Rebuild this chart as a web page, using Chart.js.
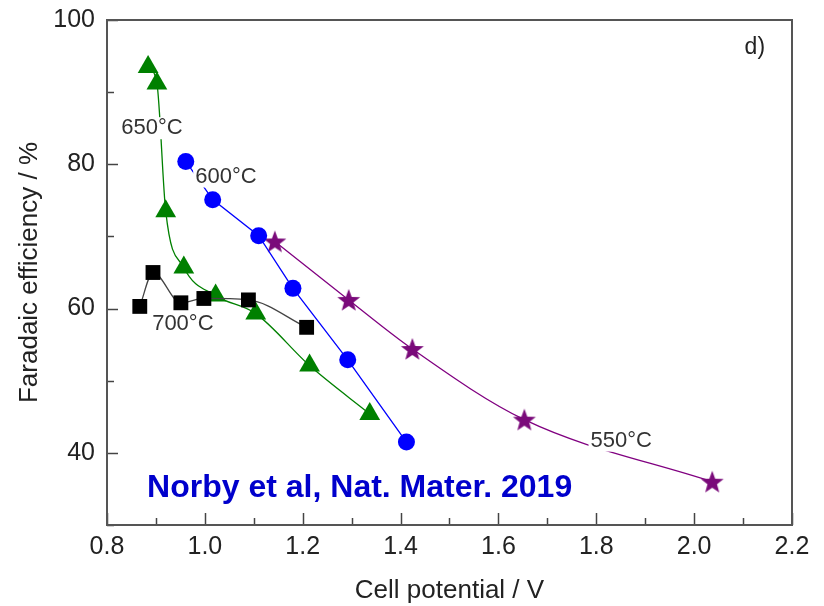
<!DOCTYPE html>
<html>
<head>
<meta charset="utf-8">
<script src="https://cdn.jsdelivr.net/npm/chart.js@4.4.0/dist/chart.umd.min.js"></script>
<style>
html, body { margin: 0; padding: 0; background: #fff; }
</style>
</head>
<body>
<canvas id="c" width="824" height="606"></canvas>
<script>
// values
const v700 = [0.867, 0.894, 0.951, 0.998, 1.089, 1.208];
const fe700 = [60.3, 65.0, 60.8, 61.4, 61.2, 57.4];

const v650 = [0.884, 0.902, 0.920, 0.957, 1.022, 1.104, 1.214, 1.337];
const fe650 = [93.5, 91.2, 73.5, 65.7, 61.8, 59.3, 52.1, 45.4];

const v600 = [0.961, 1.016, 1.110, 1.180, 1.292, 1.412];
const fe600 = [80.4, 75.1, 70.1, 62.8, 52.9, 41.5];

const v550 = [1.143, 1.294, 1.424, 1.653, 2.037];
const fe550 = [69.3, 61.2, 54.4, 44.6, 36.0];

const xTicks = [0.8, 1.0, 1.2, 1.4, 1.6, 1.8, 2.0, 2.2];
const yTicks = [40, 60, 80, 100];

// labels in data units
const labels = [
    { text: '650°C', x: 0.892, y: 85.0 },
    { text: '600°C', x: 1.043, y: 78.3 },
    { text: '700°C', x: 0.955, y: 57.9 },
    { text: '550°C', x: 1.851, y: 41.7 }
];

const pts = (xs, ys) => xs.map((x, i) => ({ x: x, y: ys[i] }));

// filled five point star
function makeStar(color) {
    const c = document.createElement('canvas');
    c.width = 26; c.height = 26;
    const g = c.getContext('2d');
    g.fillStyle = color;
    g.beginPath();
    for (let i = 0; i < 10; i++) {
        const r = i % 2 === 0 ? 12 : 5;
        const a = -Math.PI / 2 + i * Math.PI / 5;
        const px = 13 + r * Math.cos(a), py = 14 + r * Math.sin(a);
        if (i === 0) g.moveTo(px, py); else g.lineTo(px, py);
    }
    g.closePath();
    g.fill();
    return c;
}

const font = '"Liberation Sans", Arial, sans-serif';

const frameAndTicks = {
    id: 'frameAndTicks',
    beforeDatasetsDraw(chart) {
        const ctx = chart.ctx, a = chart.chartArea;
        const sx = chart.scales.x, sy = chart.scales.y;
        ctx.save();
        ctx.strokeStyle = '#444';
        ctx.lineWidth = 1.5;
        sx.ticks.forEach(t => {
            const px = Math.round(sx.getPixelForValue(t.value)) + 0.5;
            const major = Math.round(t.value * 10) % 2 === 0;
            ctx.beginPath();
            ctx.moveTo(px, a.bottom);
            ctx.lineTo(px, a.bottom - (major ? 12 : 7));
            ctx.stroke();
        });
        sy.ticks.forEach(t => {
            const py = Math.round(sy.getPixelForValue(t.value)) + 0.5;
            const major = Math.round(t.value) % 20 === 0;
            ctx.beginPath();
            ctx.moveTo(a.left, py);
            ctx.lineTo(a.left + (major ? 11 : 7), py);
            ctx.stroke();
        });
        ctx.strokeStyle = '#555';
        ctx.lineWidth = 2;
        ctx.strokeRect(a.left, a.top, a.right - a.left, a.bottom - a.top);
        ctx.restore();
    },
    afterDatasetsDraw(chart) {
        const ctx = chart.ctx;
        const sx = chart.scales.x, sy = chart.scales.y;
        ctx.save();
        ctx.font = '22px ' + font;
        ctx.textAlign = 'center';
        ctx.textBaseline = 'middle';
        labels.forEach(l => {
            const px = sx.getPixelForValue(l.x), py = sy.getPixelForValue(l.y);
            const w = ctx.measureText(l.text).width;
            ctx.fillStyle = '#fff';
            ctx.fillRect(px - w / 2 - 2, py - 11, w + 4, 22);
            ctx.fillStyle = '#333';
            ctx.fillText(l.text, px, py);
        });
        ctx.font = '23px ' + font;
        ctx.fillStyle = '#222';
        ctx.fillText('d)', sx.getPixelForValue(2.124), sy.getPixelForValue(96.1));

        ctx.font = 'bold 32px ' + font;
        ctx.fillStyle = '#0000cc';
        ctx.textAlign = 'left';
        ctx.fillText('Norby et al, Nat. Mater. 2019', sx.getPixelForValue(0.882), sy.getPixelForValue(35.1));
        ctx.restore();
    }
};

new Chart(document.getElementById('c'), {
    type: 'scatter',
    data: {
        datasets: [
            {
                label: '700°C',
                data: pts(v700, fe700),
                showLine: true,
                borderColor: '#444',
                borderWidth: 1.3,
                backgroundColor: '#000',
                pointStyle: 'rect',
                pointRadius: 10.5,
                pointBorderWidth: 0,
                cubicInterpolationMode: 'monotone'
            },
            {
                label: '650°C',
                data: pts(v650, fe650),
                showLine: true,
                borderColor: '#008000',
                borderWidth: 1.3,
                backgroundColor: '#008000',
                pointStyle: 'triangle',
                pointRadius: 12,
                pointBorderWidth: 0,
                cubicInterpolationMode: 'monotone'
            },
            {
                label: '600°C',
                data: pts(v600, fe600),
                showLine: true,
                borderColor: '#0000ff',
                borderWidth: 1.3,
                backgroundColor: '#0000ff',
                pointStyle: 'circle',
                pointRadius: 8.5,
                pointBorderWidth: 0,
                tension: 0
            },
            {
                label: '550°C',
                data: pts(v550, fe550),
                showLine: true,
                borderColor: '#800080',
                borderWidth: 1.3,
                backgroundColor: '#800080',
                pointStyle: makeStar('#7a0a7a'),
                pointRadius: 12,
                cubicInterpolationMode: 'monotone'
            }
        ]
    },
    options: {
        responsive: false,
        animation: false,
        layout: { padding: { top: 20, right: 32, left: 0, bottom: 0 } },
        plugins: {
            legend: { display: false },
            tooltip: { enabled: false }
        },
        scales: {
            x: {
                type: 'linear',
                min: 0.8,
                max: 2.2,
                grid: { display: false, drawTicks: false, tickLength: 0 },
                border: { display: false },
                ticks: {
                    stepSize: 0.1,
                    padding: 7,
                    color: '#222',
                    font: { family: font, size: 25 },
                    maxRotation: 0,
                    autoSkip: false,
                    callback: v => {
                        const t = xTicks.find(k => Math.abs(k - v) < 1e-6);
                        return t === undefined ? '' : t.toFixed(1);
                    }
                },
                title: {
                    display: true,
                    text: 'Cell potential / V',
                    color: '#222',
                    font: { family: font, size: 26 },
                    padding: { top: 0, bottom: 0 }
                },
                afterFit: s => { s.height = 606 - 525; s.paddingLeft = 0; s.paddingRight = 0; }
            },
            y: {
                type: 'linear',
                min: 30,
                max: 100,
                grid: { display: false, drawTicks: false, tickLength: 0 },
                border: { display: false },
                ticks: {
                    stepSize: 10,
                    padding: 12,
                    color: '#222',
                    font: { family: font, size: 25 },
                    autoSkip: false,
                    callback: v => yTicks.includes(Math.round(v)) ? String(Math.round(v)) : ''
                },
                title: {
                    display: true,
                    text: 'Faradaic efficiency / %',
                    color: '#222',
                    font: { family: font, size: 26 },
                    padding: { top: 14, bottom: 0 }
                },
                afterFit: s => { s.width = 107; s.paddingTop = 0; s.paddingBottom = 0; }
            }
        }
    },
    plugins: [frameAndTicks]
});
</script>
</body>
</html>
